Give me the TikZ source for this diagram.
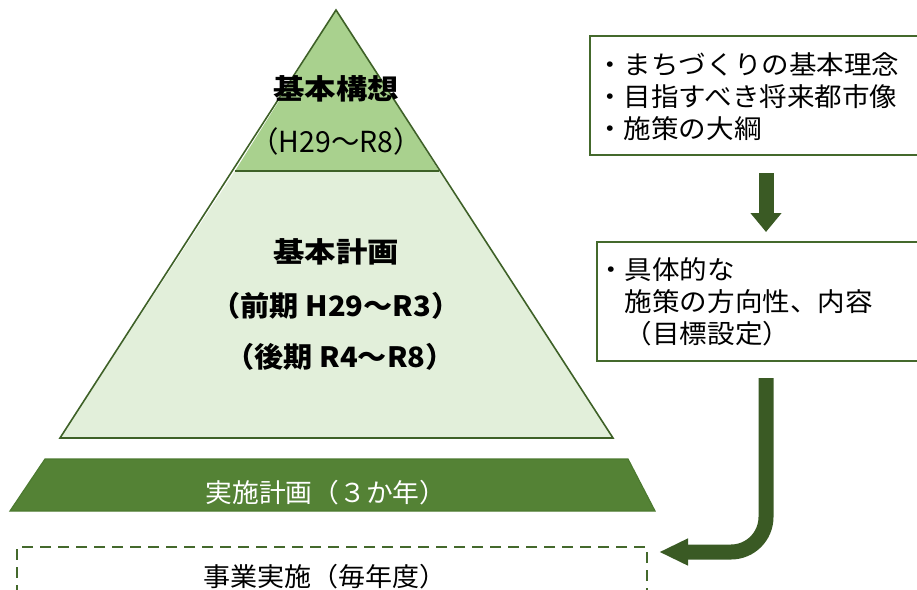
\documentclass[tikz,border=0pt]{standalone}
\usepackage{fontspec}
\usepackage{graphicx}
\setmainfont{Noto Sans CJK JP}
\usetikzlibrary{arrows.meta,calc}
\definecolor{apexg}{HTML}{A9D18E}
\definecolor{lowg}{HTML}{E2EFDA}
\definecolor{edgeg}{HTML}{3E6127}
\definecolor{ribg}{HTML}{548235}
\definecolor{ribedge}{HTML}{4C7A30}
\definecolor{arrg}{HTML}{3A5A24}
\definecolor{boxg}{HTML}{44692C}
\newcommand\wx[2]{\scalebox{#1}[1]{#2}}
\tikzset{
  layer/.style={draw=edgeg, line width=1.6pt, line join=miter},
  bigtxt/.style={inner sep=0pt, anchor=base, font={\fontsize{28}{34}\bfseries\selectfont}},
  midtxt/.style={inner sep=0pt, anchor=base, font={\fontsize{29}{34}\selectfont}},
  boxtxt/.style={inner sep=0pt, anchor=base west, font={\fontsize{26}{32}\selectfont}},
  plaintxt/.style={inner sep=0pt, anchor=base, font={\fontsize{26}{32}\selectfont}},
  infobox/.style={draw=boxg, line width=2pt, inner sep=0pt, anchor=north west},
  dashbox/.style={draw=boxg, line width=2pt, dash pattern=on 11pt off 7pt, inner sep=0pt, anchor=north west},
  fatarrow/.style={draw=arrg, line width=15pt, -{Triangle[width=30pt,length=19pt]}},
  bentarrow/.style={draw=arrg, line width=15pt, rounded corners=35pt, -{Triangle[width=25pt,length=29pt]}}
}
\begin{document}
\begin{tikzpicture}[x=1pt, y=-1pt]
\useasboundingbox (0,0) rectangle (917,589);
\clip (0,0) rectangle (917,589);
% pyramid
\fill[lowg] (235,171) -- (439,171) -- (613,438) -- (60,438) -- cycle;
\fill[apexg] (336,10) -- (439,171) -- (235,171) -- cycle;
\draw[layer] (336,10) -- (613,438) -- (60,438) -- cycle;
\draw[layer] (235,171) -- (439,171);
% ribbon
\draw[draw=ribedge, fill=ribg, line width=1.2pt] (45,459) -- (628,459) -- (655,511) -- (10,511) -- cycle;
% texts in pyramid
\node[bigtxt] (kousou) at (336,99) {\wx{1.12}{基本構想}};
\node[midtxt] (kousouY) at (336,152) {\wx{0.98}{（H29～R8）}};
\node[bigtxt] (keikaku) at (336,262) {\wx{1.12}{基本計画}};
\node[bigtxt] (zenki) at (336,316) {\wx{1.04}{（前期 H29～R3）}};
\node[bigtxt] (kouki) at (340,367) {\wx{1.04}{（後期 R4～R8）}};
\node[plaintxt, text=white] (jisshi) at (326,502) {\wx{1.03}{実施計画（３か年）}};
% dashed box
\node[dashbox, minimum width=630pt, minimum height=70pt] (jigyou) at (16,546) {};
\node[plaintxt] (jigyoutxt) at (325,586) {\wx{1.04}{事業実施（毎年度）}};
% right boxes
\node[infobox, minimum width=352pt, minimum height=119pt] (box1) at (589,35) {};
\node[boxtxt] (b1a) at (596,74) {\wx{1.06}{・まちづくりの基本理念}};
\node[boxtxt] (b1b) at (596,106) {\wx{1.06}{・目指すべき将来都市像}};
\node[boxtxt] (b1c) at (596,138) {\wx{1.06}{・施策の大綱}};
\node[infobox, minimum width=338pt, minimum height=119pt] (box2) at (596,241) {};
\node[boxtxt] (b2a) at (597,279) {\wx{1.06}{・具体的な}};
\node[boxtxt] (b2b) at (597,311) {\wx{1.06}{　施策の方向性、内容}};
\node[boxtxt] (b2c) at (597,343) {\wx{1.06}{　（目標設定）}};
% arrows
\draw[fatarrow] ($(box1.south)+(0,17)$) -- ($(box2.north)+(0,-9)$);
\coordinate (tip) at (659,552);
\draw[bentarrow] ($(box2.south)+(0,16)$) |- (tip);
\end{tikzpicture}
\end{document}
